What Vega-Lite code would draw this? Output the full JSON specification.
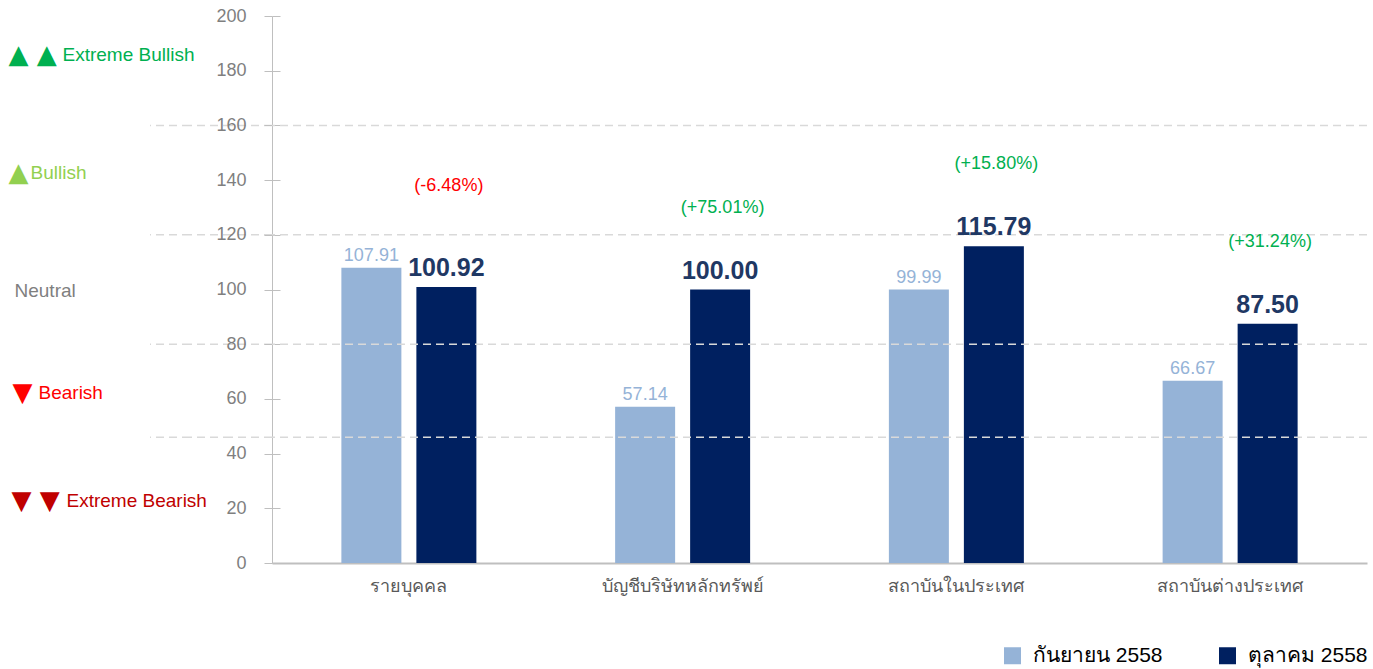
{
  "$schema": "https://vega.github.io/schema/vega-lite/v6.json",
  "autosize": {"type": "pad"},
  "padding": {"left": 8, "top": 7, "right": 6, "bottom": 6},
  "background": "white",
  "config": {
    "view": {"stroke": null},
    "font": "Liberation Sans",
    "axis": {"grid": false, "labelFont": "Liberation Sans", "titleFont": "Liberation Sans"},
    "legend": {"labelFont": "Liberation Sans"},
    "text": {"font": "Liberation Sans"}
  },
  "datasets": {
    "bars": [
      {"cat": "รายบุคคล", "month": "กันยายน 2558", "value": 107.91, "change": -6.48, "change_label": "(-6.48%)"},
      {"cat": "รายบุคคล", "month": "ตุลาคม 2558", "value": 100.92, "change": -6.48, "change_label": "(-6.48%)"},
      {"cat": "บัญชีบริษัทหลักทรัพย์", "month": "กันยายน 2558", "value": 57.14, "change": 75.01, "change_label": "(+75.01%)"},
      {"cat": "บัญชีบริษัทหลักทรัพย์", "month": "ตุลาคม 2558", "value": 100.00, "change": 75.01, "change_label": "(+75.01%)"},
      {"cat": "สถาบันในประเทศ", "month": "กันยายน 2558", "value": 99.99, "change": 15.80, "change_label": "(+15.80%)"},
      {"cat": "สถาบันในประเทศ", "month": "ตุลาคม 2558", "value": 115.79, "change": 15.80, "change_label": "(+15.80%)"},
      {"cat": "สถาบันต่างประเทศ", "month": "กันยายน 2558", "value": 66.67, "change": 31.24, "change_label": "(+31.24%)"},
      {"cat": "สถาบันต่างประเทศ", "month": "ตุลาคม 2558", "value": 87.50, "change": 31.24, "change_label": "(+31.24%)"}
    ],
    "zones": [
      {"level": 160},
      {"level": 120},
      {"level": 80},
      {"level": 46}
    ]
  },
  "hconcat": [
    {
      "width": 40,
      "height": 547,
      "data": {"name": "zones"},
      "mark": {"type": "rule", "color": "#d9d9d9", "strokeWidth": 1.5, "strokeDash": [8, 5]},
      "encoding": {
        "y": {
          "field": "level",
          "type": "quantitative",
          "scale": {"domain": [0, 200], "nice": false},
          "axis": {
            "orient": "left",
            "offset": 138,
            "title": null,
            "domain": false,
            "ticks": false,
            "tickSize": 0,
            "labelAlign": "left",
            "labelBaseline": "middle",
            "labelFont": "DejaVu Sans",
            "labelFontSize": 26,
            "values": [186, 142.6, 62.2, 23],
            "labelExpr": "datum.value == 186 ? '▲ ▲' : datum.value == 142.6 ? '▲' : datum.value == 62.2 ? '▼' : '▼ ▼'",
            "labelPadding": {"expr": "datum.value > 120 ? 4 : datum.value == 62.2 ? 0 : 1"},
            "labelColor": {"expr": "datum.value == 186 ? '#00b050' : datum.value == 142.6 ? '#92d050' : datum.value == 62.2 ? '#ff0000' : '#c00000'"}
          }
        }
      }
    },
    {
      "width": 41,
      "height": 547,
      "data": {"name": "zones"},
      "mark": {"type": "rule", "color": "#d9d9d9", "strokeWidth": 1.5, "strokeDash": [8, 5]},
      "encoding": {
        "y": {
          "field": "level",
          "type": "quantitative",
          "scale": {"domain": [0, 200], "nice": false},
          "axis": {
            "orient": "left",
            "offset": 120,
            "title": null,
            "domain": false,
            "ticks": false,
            "tickSize": 0,
            "labelAlign": "left",
            "labelBaseline": "middle",
            "labelFontSize": 19,
            "values": [186, 142.6, 99.8, 62.2, 23],
            "labelExpr": "datum.value == 186 ? 'Extreme Bullish' : datum.value == 142.6 ? 'Bullish' : datum.value == 99.8 ? 'Neutral' : datum.value == 62.2 ? 'Bearish' : 'Extreme Bearish'",
            "labelPadding": {"expr": "datum.value == 186 ? 8 : datum.value == 142.6 ? 40 : datum.value == 99.8 ? 56 : datum.value == 62.2 ? 32 : 4"},
            "labelColor": {"expr": "datum.value == 186 ? '#00b050' : datum.value == 142.6 ? '#92d050' : datum.value == 99.8 ? '#7f7f7f' : datum.value == 62.2 ? '#ff0000' : '#c00000'"}
          }
        }
      }
    },
    {
      "width": 41,
      "height": 547,
      "data": {"name": "zones"},
      "mark": {"type": "rule", "color": "#d9d9d9", "strokeWidth": 1.5, "strokeDash": [8, 5]},
      "encoding": {
        "y": {
          "field": "level",
          "type": "quantitative",
          "scale": {"domain": [0, 200], "nice": false},
          "axis": {
            "orient": "right",
            "offset": 0,
            "title": null,
            "domain": false,
            "labels": false,
            "tickSize": 8,
            "tickColor": "#bfbfbf",
            "values": [0, 20, 40, 60, 80, 100, 120, 140, 160, 180, 200]
          }
        }
      }
    },
    {
      "width": 1095,
      "height": 547,
      "layer": [
        {
          "data": {"name": "bars"},
          "mark": {"type": "bar"},
          "encoding": {
            "x": {
              "field": "cat",
              "type": "nominal",
              "sort": null,
              "scale": {"paddingInner": 0, "paddingOuter": 0},
              "axis": {
                "title": null,
                "labelAngle": 0,
                "ticks": false,
                "domainColor": "#bfbfbf",
                "domainWidth": 2,
                "labelFontSize": 18,
                "labelFontWeight": "normal",
                "labelColor": "#595959",
                "labelPadding": 14
              }
            },
            "xOffset": {
              "field": "month",
              "type": "nominal",
              "sort": null,
              "scale": {"paddingInner": 0.2, "paddingOuter": 0.925}
            },
            "y": {
              "field": "value",
              "type": "quantitative",
              "scale": {"domain": [0, 200], "nice": false},
              "axis": {
                "title": null,
                "tickCount": 10,
                "domainColor": "#bfbfbf",
                "tickColor": "#bfbfbf",
                "tickSize": 8,
                "labelPadding": 18,
                "labelFontSize": 18,
                "labelColor": "#7f7f7f"
              }
            },
            "color": {
              "field": "month",
              "type": "nominal",
              "sort": null,
              "scale": {"domain": ["กันยายน 2558", "ตุลาคม 2558"], "range": ["#95b3d7", "#002060"]},
              "legend": {
                "title": null,
                "orient": "none",
                "direction": "horizontal",
                "legendX": 852,
                "legendY": 629,
                "symbolType": "square",
                "symbolSize": 289,
                "symbolStrokeWidth": 0,
                "labelFontSize": 21,
                "labelColor": "#000000",
                "labelOffset": 10,
                "columnPadding": 54
              }
            }
          }
        },
        {
          "data": {"name": "zones"},
          "mark": {"type": "rule", "color": "#d9d9d9", "strokeWidth": 1.5, "strokeDash": [8, 5]},
          "encoding": {
            "y": {"field": "level", "type": "quantitative"}
          }
        },
        {
          "data": {"name": "bars"},
          "transform": [{"filter": "datum.month == 'กันยายน 2558'"}],
          "mark": {"type": "text", "fontSize": 18, "color": "#95b3d7", "baseline": "alphabetic", "dy": -7},
          "encoding": {
            "x": {"field": "cat", "type": "nominal", "sort": null},
            "xOffset": {"field": "month", "type": "nominal", "sort": null},
            "y": {"field": "value", "type": "quantitative"},
            "text": {"field": "value", "type": "quantitative", "format": ".2f"}
          }
        },
        {
          "data": {"name": "bars"},
          "transform": [{"filter": "datum.month == 'ตุลาคม 2558'"}],
          "mark": {"type": "text", "fontSize": 25, "fontWeight": "bold", "color": "#1f3864", "baseline": "alphabetic", "dy": -11},
          "encoding": {
            "x": {"field": "cat", "type": "nominal", "sort": null},
            "xOffset": {"field": "month", "type": "nominal", "sort": null},
            "y": {"field": "value", "type": "quantitative"},
            "text": {"field": "value", "type": "quantitative", "format": ".2f"}
          }
        },
        {
          "data": {"name": "bars"},
          "transform": [
            {"aggregate": [{"op": "max", "field": "value", "as": "top"}], "groupby": ["cat", "change", "change_label"]}
          ],
          "mark": {"type": "text", "fontSize": 18, "baseline": "middle", "dx": 40, "dy": -82},
          "encoding": {
            "x": {"field": "cat", "type": "nominal", "sort": null},
            "y": {"field": "top", "type": "quantitative"},
            "text": {"field": "change_label", "type": "nominal"},
            "color": {"condition": {"test": "datum.change < 0", "value": "#ff0000"}, "value": "#00b050"}
          }
        }
      ]
    }
  ],
  "spacing": 0,
  "bounds": "flush"
}
